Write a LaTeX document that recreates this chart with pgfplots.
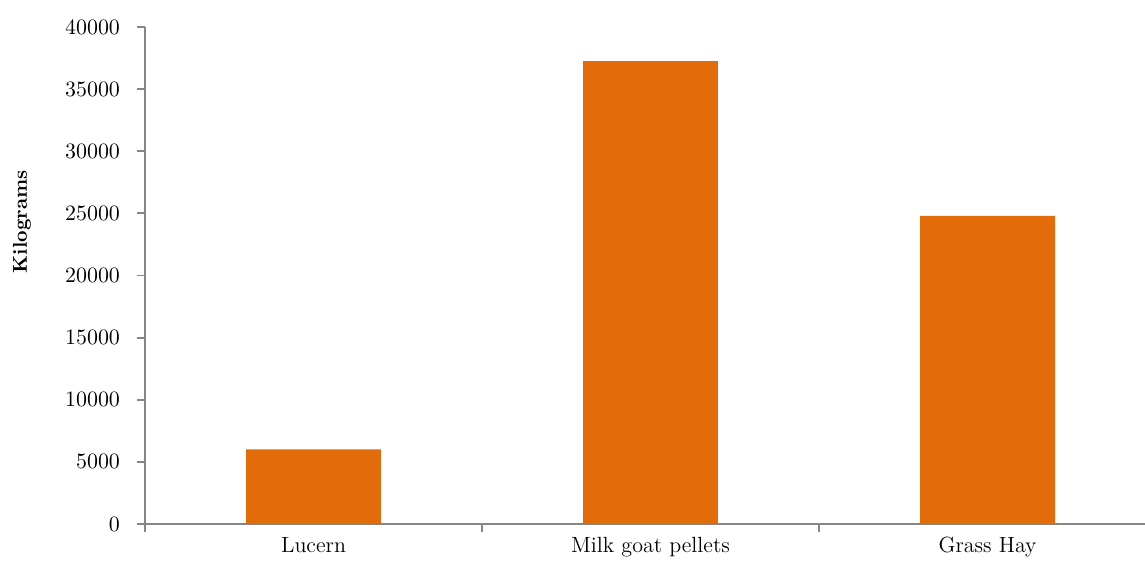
\documentclass[border=0pt]{standalone}
\usepackage{pgfplots}
\pgfplotsset{compat=1.18}
\definecolor{barorange}{HTML}{E36C0A}
\definecolor{axisgray}{HTML}{868686}
\begin{document}
\begin{tikzpicture}
\useasboundingbox (-72.5pt,-19pt) rectangle (500pt,262pt);
\begin{axis}[
  at={(0,0)}, anchor=south west,
  scale only axis,
  width=500pt, height=248.5pt,
  xmin=-0.5, xmax=2.467,
  ymin=0, ymax=40000,
  axis x line=bottom, axis y line=left,
  axis line style={-, axisgray, line width=0.9pt},
  xtick={-0.5,0.5,1.5},
  xticklabels={},
  extra x ticks={0,1,2},
  extra x tick labels={Lucern, Milk goat pellets, Grass Hay},
  extra x tick style={major tick length=0pt, tick label style={yshift=-3pt}},
  ytick={0,5000,...,40000},
  tick style={axisgray, line width=0.9pt},
  tick align=outside,
  major tick length=4pt,
  scaled y ticks=false,
  y tick label style={/pgf/number format/fixed, /pgf/number format/1000 sep={}, xshift=-5pt},
  tick label style={font=\fontsize{11}{13}\selectfont},
  ylabel={\textbf{Kilograms}},
  every axis y label/.style={at={(axis description cs:-0.123,0.608)}, rotate=90, anchor=center, font=\fontsize{10}{12}\selectfont},
  clip=false,
]
\addplot[ybar, bar width=0.4, fill=barorange, draw=none] coordinates {(0,6000) (1,37250) (2,24800)};
\end{axis}
\end{tikzpicture}
\end{document}
